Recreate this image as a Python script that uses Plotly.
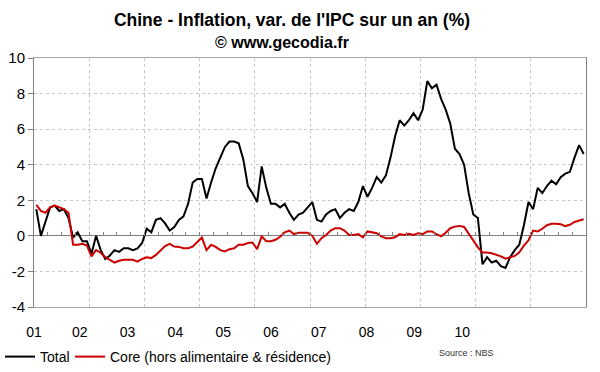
import plotly.graph_objects as go

# ---- data (monthly, Jan 2001 -> Dec 2010) ----
years = ["01", "02", "03", "04", "05", "06", "07", "08", "09", "10"]
y_ticks = [-4, -2, 0, 2, 4, 6, 8, 10]
y_labels = ["-4", "-2", "0", "2", "4", "6", "8", "10"]

total = [
    1.5, 0.0, 0.8, 1.6, 1.7, 1.4, 1.5, 1.0, -0.1, 0.2, -0.3, -0.3,
    -1.0, 0.0, -0.8, -1.3, -1.1, -0.8, -0.9, -0.7, -0.7, -0.8, -0.7, -0.4,
    0.4, 0.2, 0.9, 1.0, 0.7, 0.3, 0.5, 0.9, 1.1, 1.8, 3.0, 3.2,
    3.2, 2.1, 3.0, 3.8, 4.4, 5.0, 5.3, 5.3, 5.2, 4.3, 2.8, 2.4,
    1.9, 3.9, 2.7, 1.8, 1.8, 1.6, 1.8, 1.3, 0.9, 1.2, 1.3, 1.6,
    1.9, 0.9, 0.8, 1.2, 1.4, 1.5, 1.0, 1.3, 1.5, 1.4, 1.9, 2.8,
    2.2, 2.7, 3.3, 3.0, 3.4, 4.4, 5.6, 6.5, 6.2, 6.5, 6.9, 6.5,
    7.1, 8.7, 8.3, 8.5, 7.7, 7.1, 6.3, 4.9, 4.6, 4.0, 2.4, 1.2,
    1.0, -1.6, -1.2, -1.5, -1.4, -1.7, -1.8, -1.2, -0.8, -0.5, 0.6, 1.9,
    1.5, 2.7, 2.4, 2.8, 3.1, 2.9, 3.3, 3.5, 3.6, 4.4, 5.1, 4.6,
]

core = [
    1.75, 1.4, 1.3, 1.6, 1.7, 1.6, 1.5, 1.3, -0.5, -0.5, -0.45, -0.55,
    -1.15, -0.8, -0.95, -1.2, -1.35, -1.5, -1.4, -1.35, -1.35, -1.35, -1.45, -1.3,
    -1.2, -1.25, -1.07, -0.8, -0.57, -0.45, -0.6, -0.62, -0.7, -0.7, -0.6, -0.35,
    -0.1, -0.8, -0.5, -0.62, -0.8, -0.88, -0.75, -0.7, -0.5, -0.5, -0.4, -0.37,
    -0.75, -0.03, -0.3, -0.3, -0.22, -0.05, 0.2, 0.3, 0.1, 0.18, 0.18, 0.18,
    0.0, -0.45, -0.13, 0.05, 0.3, 0.43, 0.43, 0.3, 0.05, 0.05, 0.1, -0.08,
    0.25, 0.2, 0.15, -0.03, -0.13, -0.13, -0.08, 0.1, 0.05, 0.12, 0.05, 0.15,
    0.1, 0.25, 0.25, 0.1, -0.03, 0.18, 0.43, 0.52, 0.56, 0.5, 0.1, -0.3,
    -0.65, -0.93, -0.93, -0.98, -1.05, -1.15, -1.28, -1.22, -1.13, -0.93, -0.55, -0.25,
    0.3, 0.25, 0.4, 0.6, 0.68, 0.68, 0.65, 0.55, 0.62, 0.78, 0.85, 0.93,
]

n = len(total)
xpos = [i + 0.5 for i in range(n)]

fig = go.Figure()
fig.add_trace(go.Scatter(x=xpos, y=total, name="Total", mode="lines", showlegend=True,
                         line=dict(color="#000000", width=2), legend="legend"))
fig.add_trace(go.Scatter(x=xpos, y=core, name="Core (hors alimentaire & résidence)",
                         mode="lines", showlegend=True,
                         line=dict(color="#cc0000", width=2), legend="legend2"))
# helper so the zero-line tick axis is drawn
fig.add_trace(go.Scatter(x=[], y=[], xaxis="x2", showlegend=False, hoverinfo="skip"))

label_pos = [max(0.0, -0.43 + 10.39 * i) for i in range(len(years))]

legend_y = (372 - 357) / 372

fig.update_layout(
    width=600, height=372,
    showlegend=True,
    margin=dict(l=34, r=14, t=58, b=65, autoexpand=False),
    paper_bgcolor="white", plot_bgcolor="white",
    font=dict(family="Liberation Sans, Arial, sans-serif", size=14, color="#000000"),
    title=dict(text="<b>Chine - Inflation, var. de l'IPC sur un an (%)</b>",
               x=292 / 600, xref="container", xanchor="center",
               y=1 - 20 / 372, yref="container", yanchor="middle",
               font=dict(size=17.5, color="#000000")),
    xaxis=dict(range=[0, 120], tickmode="array", tickvals=label_pos, ticktext=years,
               showgrid=False, ticks="", showline=True, linecolor="#a6a6a6",
               mirror=True, zeroline=False, ticklabelstandoff=12, automargin=False,
               tickfont=dict(size=14),
               minor=dict(tickmode="array", tickvals=list(range(12, 120, 12)),
                          showgrid=True, gridcolor="#c8c8c8", griddash="dot",
                          gridwidth=1, ticks="")),
    xaxis2=dict(range=[0, 120], overlaying="x", anchor="free", position=4 / 14,
                side="bottom", tickmode="linear", tick0=0, dtick=3,
                ticks="inside", ticklen=4, tickwidth=1, tickcolor="#808080",
                automargin=False, showticklabels=False, showgrid=False,
                showline=False, zeroline=False),
    yaxis=dict(range=[-4, 10], tickmode="array", tickvals=y_ticks, ticktext=y_labels,
               showgrid=True, gridcolor="#c8c8c8", griddash="dot", gridwidth=1,
               zeroline=True, zerolinecolor="#808080", zerolinewidth=1,
               showline=True, linecolor="#808080", mirror=True, automargin=False,
               ticks="outside", ticklen=5, tickcolor="#808080",
               tickfont=dict(size=15)),
    legend=dict(orientation="h", xref="container", yref="container",
                x=0.0, xanchor="left", y=legend_y, yanchor="middle",
                font=dict(size=14), bgcolor="rgba(0,0,0,0)"),
    legend2=dict(orientation="h", xref="container", yref="container",
                 x=70 / 600, xanchor="left", y=legend_y, yanchor="middle",
                 font=dict(size=14), bgcolor="rgba(0,0,0,0)"),
    annotations=[
        dict(text="<b>© www.gecodia.fr</b>", xref="paper", yref="paper",
             x=(282 - 34) / 552, y=(307 - 42) / 249, xanchor="center", yanchor="middle",
             showarrow=False, font=dict(size=16, color="#000000")),
        dict(text="Source : NBS", xref="paper", yref="paper",
             x=(437 - 34) / 552, y=(307 - 353) / 249, xanchor="left", yanchor="middle",
             showarrow=False, font=dict(size=9, color="#333333")),
    ],
)

fig.write_html("out.html", config={"displayModeBar": False},
               post_script="document.body.style.margin='0px';")
